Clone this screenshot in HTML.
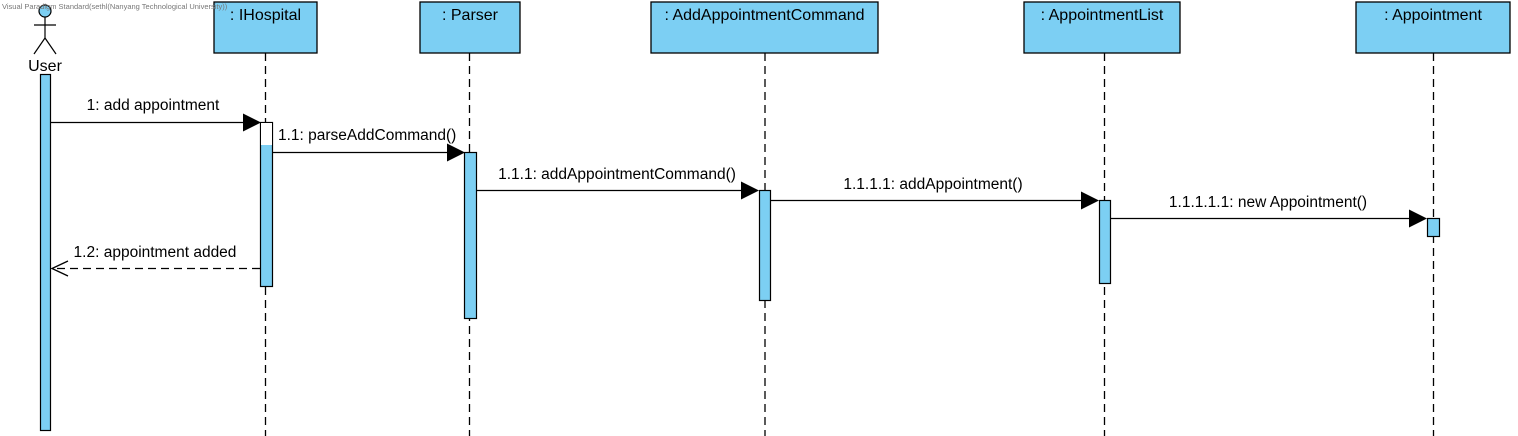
<!DOCTYPE html>
<html><head><meta charset="utf-8"><style>body{margin:0;background:#fff}svg{display:block}text{font-family:"Liberation Sans",sans-serif;font-size:15.5px;fill:#000}</style></head><body>
<svg width="1518" height="436" xmlns="http://www.w3.org/2000/svg">
<g stroke="#000" stroke-width="1.3" fill="#7ccff3">
<rect x="214" y="2" width="103" height="51"/>
<rect x="420" y="2" width="100" height="51"/>
<rect x="651" y="2" width="227" height="51"/>
<rect x="1024" y="2" width="156" height="51"/>
<rect x="1356" y="2" width="154" height="51"/>
</g>
<g text-anchor="middle">
<text x="265.5" y="20" style="font-size:16px">: IHospital</text>
<text x="470" y="20" style="font-size:16px">: Parser</text>
<text x="764.5" y="20" style="font-size:16px">: AddAppointmentCommand</text>
<text x="1102" y="20" style="font-size:16px">: AppointmentList</text>
<text x="1433" y="20" style="font-size:16px">: Appointment</text>
<text x="45" y="71" style="font-size:16px">User</text>
</g>
<g stroke="#000" stroke-width="1.3" stroke-dasharray="8,5" fill="none">
<line x1="265.5" y1="53" x2="265.5" y2="436"/>
<line x1="469.5" y1="53" x2="469.5" y2="436"/>
<line x1="765" y1="53" x2="765" y2="436"/>
<line x1="1104.5" y1="53" x2="1104.5" y2="436"/>
<line x1="1433.5" y1="53" x2="1433.5" y2="436"/>
</g>
<g stroke="#000" stroke-width="1.2">
<circle cx="45" cy="11" r="6" fill="#7ccff3"/>
<line x1="45" y1="17" x2="45" y2="38"/>
<line x1="34" y1="25" x2="56" y2="25"/>
<line x1="45" y1="38" x2="34" y2="54"/>
<line x1="45" y1="38" x2="56" y2="54"/>
</g>
<text x="2" y="9" style="font-size:7.5px;fill:#777">Visual Paradigm Standard(sethl(Nanyang Technological University))</text>
<g stroke="#000" stroke-width="1.2" fill="#7ccff3">
<rect x="40.5" y="74.5" width="10" height="356"/>
<rect x="260.5" y="122.5" width="12" height="164"/>
<rect x="464.5" y="152.5" width="12" height="166"/>
<rect x="759.5" y="190.5" width="11" height="110"/>
<rect x="1099.5" y="200.5" width="11" height="83"/>
<rect x="1427.5" y="218.5" width="12" height="18"/>
</g>
<rect x="261" y="123" width="11" height="22" fill="#fff"/>
<g stroke="#000" stroke-width="1.3">
<line x1="51" y1="122.5" x2="244" y2="122.5"/>
<line x1="273" y1="152.5" x2="448" y2="152.5"/>
<line x1="477" y1="190.5" x2="742" y2="190.5"/>
<line x1="771" y1="200.5" x2="1082" y2="200.5"/>
<line x1="1111" y1="218.5" x2="1410" y2="218.5"/>
<line x1="260" y1="268.5" x2="53" y2="268.5" stroke-dasharray="8,5"/>
<polyline points="68,261 52,268.5 68,276" fill="none"/>
</g>
<g fill="#000">
<polygon points="243,113.5 261,122.5 243,131.5"/>
<polygon points="447,143.5 465,152.5 447,161.5"/>
<polygon points="741,181.5 759,190.5 741,199.5"/>
<polygon points="1081,191.5 1099,200.5 1081,209.5"/>
<polygon points="1409,209.5 1427,218.5 1409,227.5"/>
</g>
<g text-anchor="middle">
<text x="153" y="110">1: add appointment</text>
<text x="617" y="179">1.1.1: addAppointmentCommand()</text>
<text x="933" y="189">1.1.1.1: addAppointment()</text>
<text x="1268" y="207">1.1.1.1.1: new Appointment()</text>
<text x="155" y="257">1.2: appointment added</text>
</g>
<text x="278" y="140">1.1: parseAddCommand()</text>
</svg>
</body></html>
